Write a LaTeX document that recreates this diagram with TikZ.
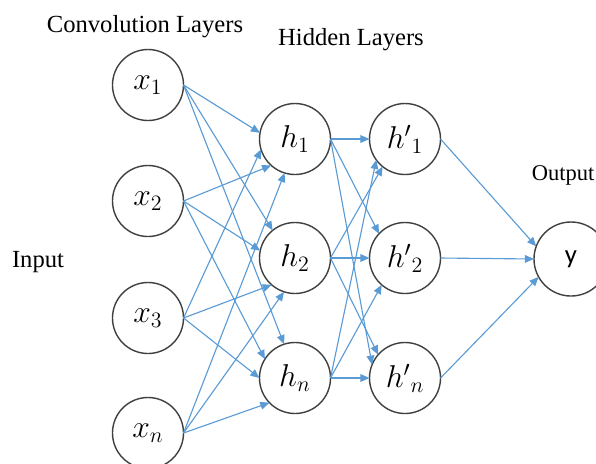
\documentclass[tikz,border=0pt]{standalone}
\usepackage{graphicx}
\usepackage{fontspec}
\setmainfont{Liberation Serif}
\newfontfamily\ysans{Carlito}
\usetikzlibrary{arrows.meta}
\definecolor{edgeblue}{RGB}{91,155,213}
\definecolor{ringgray}{RGB}{64,64,64}
\newcommand{\nlab}[1]{\scalebox{1.3}{$#1$}}
\begin{document}
\begin{tikzpicture}[x=0.025cm,y=-0.025cm,
  neuron/.style={circle,draw=ringgray,line width=1pt,minimum size=1.775cm,
    inner sep=0pt,outer sep=0pt,font=\fontsize{17}{20}\selectfont},
  edge/.style={draw=edgeblue,line width=0.8pt,-{Triangle[length=6.5pt,width=5.5pt]}},
  lbl/.style={font=\fontsize{17.5}{20}\selectfont,inner sep=0pt}]
\useasboundingbox (0,0) rectangle (596,463);
\clip (0,0) rectangle (596,463);
% labels
\node[lbl] (tconv) at (145,27) {Convolution Layers};
\node[lbl] (thid) at (351,40) {Hidden Layers};
\node[lbl,font=\fontsize{16}{20}\selectfont] (tout) at (563,175) {Output};
\node[lbl] (tin) at (38,262) {Input};
% input layer
\node[neuron] (x1) at (148,85) {\nlab{x_1}};
\node[neuron] (x2) at (148,201) {\nlab{x_2}};
\node[neuron] (x3) at (148,318) {\nlab{x_3}};
\node[neuron] (xn) at (148,433) {\nlab{x_n}};
% hidden 1
\node[neuron] (h1) at (295,139) {\nlab{h_1}};
\node[neuron] (h2) at (295,258) {\nlab{h_2}};
\node[neuron] (hn) at (295,378) {\nlab{h_n}};
% hidden 2
\node[neuron] (hp1) at (405,139) {\nlab{{h'}_1}};
\node[neuron] (hp2) at (405,258) {\nlab{{h'}_2}};
\node[neuron] (hpn) at (405,378) {\nlab{{h'}_n}};
% output
\node[neuron,minimum size=1.85cm,font=\fontsize{19}{22}\selectfont] (y) at (571,259) {\ysans y};
% x -> h
\draw[edge] (x1.east) -- (h1.170);
\draw[edge] (x1.east) -- (h2.129);
\draw[edge] (x1.east) -- (hn.108);
\draw[edge] (x2.east) -- (h1.228);
\draw[edge] (x2.east) -- (h2.168);
\draw[edge] (x2.east) -- (hn.148);
\draw[edge] (x3.east) -- (h1.197);
\draw[edge] (x3.east) -- (h2.229);
\draw[edge] (x3.east) -- (hn.180);
\draw[edge] (xn.east) -- (h1.253);
\draw[edge] (xn.east) -- (h2.252);
\draw[edge] (xn.east) -- (hn.224);
% h -> h'
\draw[edge] (h1.east) -- (hp1.180);
\draw[edge] (h1.east) -- (hp2.137);
\draw[edge] (h1.east) -- (hpn.158);
\draw[edge] (h2.east) -- (hp1.231);
\draw[edge] (h2.east) -- (hp2.180);
\draw[edge] (h2.east) -- (hpn.139);
\draw[edge] (hn.east) -- (hp1.216);
\draw[edge] (hn.east) -- (hp2.229);
\draw[edge] (hn.east) -- (hpn.180);
% h' -> y
\draw[edge] (hp1.east) -- (y.160);
\draw[edge] (hp2.east) -- (y.180);
\draw[edge] (hpn.east) -- (y.209);
\end{tikzpicture}
\end{document}
